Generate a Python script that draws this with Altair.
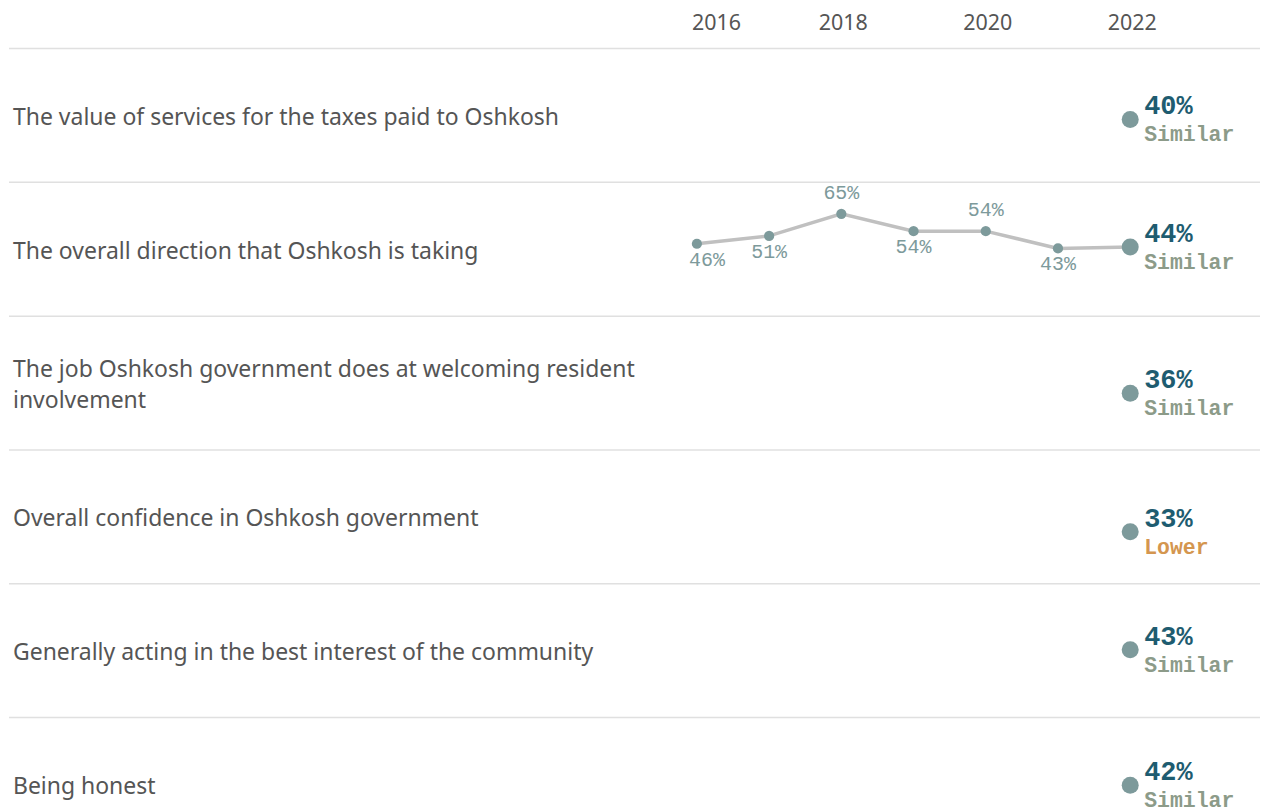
import altair as alt
import pandas as pd

# ---- data ----
categories = [
    "The value of services for the taxes paid to Oshkosh",
    "The overall direction that Oshkosh is taking",
    "The job Oshkosh government does at welcoming resident\ninvolvement",
    "Overall confidence in Oshkosh government",
    "Generally acting in the best interest of the community",
    "Being honest",
]
values_2022 = [40, 44, 36, 33, 43, 42]
status_2022 = ["Similar", "Similar", "Similar", "Lower", "Similar", "Similar"]

trend_category = "The overall direction that Oshkosh is taking"
trend_years = [2016, 2017, 2018, 2019, 2020, 2021, 2022]
trend_values = [46, 51, 65, 54, 54, 43, 44]

header_years = [2016, 2018, 2020, 2022]

# ---- layout constants ----
W, H = 1253, 786
ROW = 85.0            # value units per row
PX_PER_UNIT = 134 / ROW
HDR = 40 / PX_PER_UNIT
Y_MAX = H / PX_PER_UNIT
X_PER_YEAR = 434 / 6
X_MIN = 2016 - 689 / X_PER_YEAR
X_MAX = X_MIN + W / X_PER_YEAR
LINE_H = 32

SANS = "Noto Sans"
MONO = "Courier New, Liberation Mono, monospace"

rows = pd.DataFrame({
    "category": categories,
    "row": list(range(len(categories))),
    "value": values_2022,
    "status": status_2022,
    "year": [2022] * len(categories),
})

trend_row = categories.index(trend_category)
trend = pd.DataFrame({"year": trend_years, "value": trend_values})
trend["row"] = trend_row
# label above when the point is at least as high as its neighbours
above = []
for i, v in enumerate(trend_values):
    nb = [trend_values[j] for j in (i - 1, i + 1) if 0 <= j < len(trend_values)]
    above.append(all(v >= n for n in nb) and i != len(trend_values) - 1)
trend["above"] = above
trend["label"] = [f"{v}%" for v in trend_values]

seps = pd.DataFrame({"k": list(range(len(categories)))})
heads = pd.DataFrame({"year": header_years, "first": [y == header_years[0] for y in header_years]})

xs = alt.Scale(domain=[X_MIN, X_MAX], nice=False, zero=False)
ys = alt.Scale(domain=[0, Y_MAX], reverse=True, nice=False, zero=False)

pos_y = f"{HDR} + (datum.row + 1) * {ROW} - datum.value"

sep = alt.Chart(seps).transform_calculate(
    yy=f"{HDR} + datum.k * {ROW}"
).mark_rule(color="#e0e0e0", strokeWidth=1.5).encode(
    y=alt.Y("yy:Q", scale=ys, axis=None),
    x=alt.value(0), x2=alt.value(W),
)

head_first = alt.Chart(heads).transform_filter("datum.first").transform_calculate(
    yy="9.5"
).mark_text(font=SANS, fontSize=21.5, color="#555555", align="left", dx=-5, baseline="middle").encode(
    x=alt.X("year:Q", scale=xs, axis=None),
    y=alt.Y("yy:Q", scale=ys),
    text=alt.Text("year:N"),
)
head_rest = alt.Chart(heads).transform_filter("!datum.first").transform_calculate(
    yy="9.5"
).mark_text(font=SANS, fontSize=21.5, color="#555555", align="center", dx=2, baseline="middle").encode(
    x=alt.X("year:Q", scale=xs, axis=None),
    y=alt.Y("yy:Q", scale=ys),
    text=alt.Text("year:N"),
)

labels = alt.Chart(rows).transform_calculate(
    lines="split(datum.category, '\\n')",
).transform_calculate(
    yy=f"{HDR} + datum.row * {ROW} + {ROW / 2} - (length(datum.lines) - 1) * {LINE_H / 2 / PX_PER_UNIT}",
).mark_text(font=SANS, fontSize=23, color="#555555", align="left", baseline="middle",
            lineHeight=LINE_H, dy=2.5).encode(
    x=alt.value(4),
    y=alt.Y("yy:Q", scale=ys),
    text="lines:N",
)

line = alt.Chart(trend).transform_calculate(yy=pos_y).mark_line(
    color="#c0c0c0", strokeWidth=3.5
).encode(
    x=alt.X("year:Q", scale=xs),
    y=alt.Y("yy:Q", scale=ys),
    order="year:Q",
)

small_dots = alt.Chart(trend).transform_filter("datum.year < 2022").transform_calculate(
    yy=pos_y
).mark_circle(color="#7d9a9b", opacity=1, size=105).encode(
    x=alt.X("year:Q", scale=xs),
    y=alt.Y("yy:Q", scale=ys),
)

tl_common = dict(font=MONO, fontSize=20, color="#7d9a9b", baseline="middle")
trend_labels_above = alt.Chart(trend).transform_filter("datum.year < 2022 && datum.above").transform_calculate(
    yy=pos_y
).mark_text(dy=-21, **tl_common).encode(
    x=alt.X("year:Q", scale=xs), y=alt.Y("yy:Q", scale=ys), text="label:N"
)
trend_labels_below_first = alt.Chart(trend).transform_filter(
    f"datum.year == {trend_years[0]} && !datum.above").transform_calculate(
    yy=pos_y
).mark_text(dy=16, dx=10, **tl_common).encode(
    x=alt.X("year:Q", scale=xs), y=alt.Y("yy:Q", scale=ys), text="label:N"
)
trend_labels_below = alt.Chart(trend).transform_filter(
    f"datum.year > {trend_years[0]} && datum.year < 2022 && !datum.above").transform_calculate(
    yy=pos_y
).mark_text(dy=16, **tl_common).encode(
    x=alt.X("year:Q", scale=xs), y=alt.Y("yy:Q", scale=ys), text="label:N"
)

big_dots = alt.Chart(rows).transform_calculate(yy=pos_y).mark_circle(
    color="#7d9a9b", opacity=1, size=290
).encode(
    x=alt.X("year:Q", scale=xs),
    y=alt.Y("yy:Q", scale=ys),
)

val_text = alt.Chart(rows).transform_calculate(
    yy=pos_y, lab="datum.value + '%'"
).mark_text(font=MONO, fontSize=27, fontWeight="bold", color="#1e5c70",
            align="left", baseline="middle", dx=14, dy=-13).encode(
    x=alt.X("year:Q", scale=xs),
    y=alt.Y("yy:Q", scale=ys),
    text="lab:N",
)

stat_text = alt.Chart(rows).transform_calculate(yy=pos_y).mark_text(
    font=MONO, fontSize=21.5, fontWeight="bold", align="left", baseline="middle", dx=14, dy=16
).encode(
    x=alt.X("year:Q", scale=xs),
    y=alt.Y("yy:Q", scale=ys),
    text="status:N",
    color=alt.Color("status:N", scale=alt.Scale(domain=["Similar", "Lower", "Higher"],
                                                 range=["#8c9b89", "#d4964f", "#4e8a5a"]),
                    legend=None),
)

chart = alt.layer(
    sep, head_first, head_rest, labels, line, small_dots,
    trend_labels_above, trend_labels_below_first, trend_labels_below,
    big_dots, val_text, stat_text,
).properties(width=W, height=H, padding=0).configure_view(stroke=None)

chart.save("out.html", embed_options={"renderer": "svg", "actions": False})
